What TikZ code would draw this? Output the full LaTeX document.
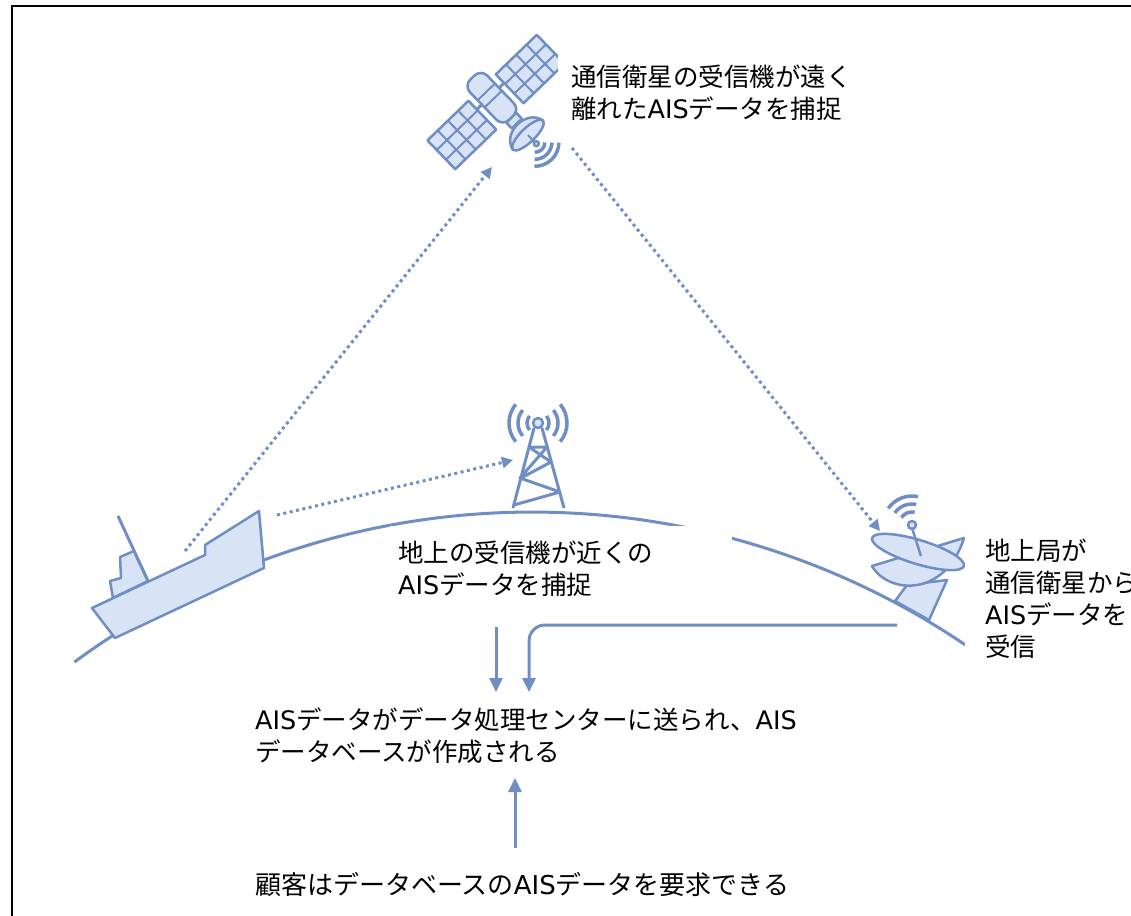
\documentclass[tikz,border=0pt]{standalone}
\usepackage{fontspec}
\setmainfont{Noto Sans CJK JP}
\newfontfamily\latinfont{DejaVu Sans}
\newcommand\aisword{{\latinfont AIS}}
\usetikzlibrary{arrows.meta}
\definecolor{ink}{RGB}{112,142,196}
\definecolor{pale}{RGB}{216,228,246}
\begin{document}
\begin{tikzpicture}[x=1pt,y=-1pt,
  line/.style={draw=ink, line width=3pt, line join=round},
  part/.style={draw=ink, fill=pale, line width=2.5pt, line join=round},
  radio/.style={draw=ink, line width=3.5pt},
  beam/.style={draw=ink, line width=3pt, dash pattern=on 3pt off 3.5pt,
               -{Triangle[length=11pt,width=11pt]}},
  flow/.style={draw=ink, line width=3pt, -{Triangle[length=14pt,width=13pt]}},
  mask/.style={fill=white, draw=none},
  lbl/.style={anchor=base west, align=left, inner sep=0pt,
              font=\fontsize{25.5}{32}\selectfont, text width=600pt}]
\useasboundingbox (0,0) rectangle (1131,915);
\clip (0,0) rectangle (1131,915);

% frame
\draw[line width=2.5pt] (12,920) -- (12,6) -- (1140,6);

% curved horizon
\draw[line] (532,1285) ++(-126.3:773) arc[start angle=-126.3, end angle=-55.9, radius=773];

% ---------- satellite ----------
\begin{scope}[shift={(496,102)}, rotate=44]
  \foreach \s in {-1,1}{
    \draw[part] (\s*19,-20) rectangle (\s*76,20);
    \foreach \k in {1,2,3}
      \draw[ink, line width=2pt] (\s*19+\s*14.25*\k,-20) -- (\s*19+\s*14.25*\k,20);
    \foreach \k in {1,2}
      \draw[ink, line width=2pt] (\s*19,-20+13.33*\k) -- (\s*76,-20+13.33*\k);
  }
  \draw[line] (-19,-8) -- (19,-8);
  \draw[part, rounded corners=9pt] (-12,22) -- (-12,-34) -- (12,-34) -- (12,22) -- cycle;
  \draw[ink, line width=2pt] (-12,-14) -- (12,-14) (-12,-4) -- (12,-4);
  \draw[part] (-7,22) rectangle (7,30);
  \draw[part] (-21,46) .. controls (-17,26) and (17,26) .. (21,46) -- cycle;
  \draw[part] (0,46) ellipse[x radius=21, y radius=7];
  \draw[ink, line width=2pt] (0,46) -- (0,56);
  \draw[part] (0,58) circle[radius=2.5];
  \foreach \r in {10,17,24}
    \draw[radio] (0,56) ++(45:\r) arc[start angle=45, end angle=135, radius=\r];
\end{scope}

% ---------- ground tower ----------
\draw[line] (513,508) -- (534,428) (564,508) -- (542,428);
\draw[line] (529,447) -- (547,447) -- (520,478) -- (560,492) -- (514,505)
            (529,447) -- (551,462) -- (521,478);
\draw[part] (538,423) circle[radius=5];
\foreach \r in {11,20,29}{
  \draw[radio] (538,423) ++(140:\r) arc[start angle=140, end angle=220, radius=\r];
  \draw[radio] (538,423) ++(-40:\r) arc[start angle=-40, end angle=40, radius=\r];
}

% ---------- ship ----------
\draw[part] (113,598) -- (110,581) -- (121,578) -- (120,557) -- (134,551) -- (148,581) -- cycle;
\draw[line] (118,516) -- (148,581);
\draw[part] (92,608) -- (205,555) -- (205,545) -- (259,511) -- (264,568) -- (115,638) -- cycle;

% ---------- ground station ----------
\draw[part] (907,585) -- (895,601) -- (929,620) -- (947,580) -- cycle;
\draw[part] (872,566) .. controls (888,594) and (945,598) .. (964,538) -- cycle;
\draw[part, rotate around={-17:(918,552)}] (918,552) ellipse[x radius=48, y radius=12];
\draw[ink, line width=2.5pt] (912,528) -- (921,556);
\draw[part] (912,525) circle[radius=4];
\foreach \r in {13,21,29}
  \draw[radio] (912,525) ++(-145:\r) arc[start angle=-145, end angle=-78, radius=\r];

% ---------- radio links ----------
\coordinate (shipUp) at (185,551);
\coordinate (satIn) at (492,167);
\coordinate (shipFwd) at (277,515);
\coordinate (towerIn) at (513,460);
\coordinate (satOut) at (572,148);
\coordinate (dishIn) at (880,531);
\draw[beam] (shipUp) -- (satIn);
\draw[beam] (shipFwd) -- (towerIn);
\draw[beam] (satOut) -- (dishIn);

% ---------- labels ----------
\fill[mask] (558,55) rectangle (880,132);
\node[lbl] (satText) at (571,87) {通信衛星の受信機が遠く\\離れた\aisword データを捕捉};
\fill[mask] (390,526) rectangle (732,608);
\node[lbl] (gndText) at (398,562) {地上の受信機が近くの\\\aisword データを捕捉};
\fill[mask] (965,528) rectangle (1140,670);
\node[lbl] (stnText) at (985,560) {地上局が\\通信衛星から\\\aisword データを\\受信};
\node[lbl] (ctrText) at (255,729) {\aisword データがデータ処理センターに送られ、\aisword\\データベースが作成される};
\node[lbl, font=\fontsize{26}{32}\selectfont] (custText) at (255,894) {顧客はデータベースの\aisword データを要求できる};

% ---------- data flow ----------
\coordinate (gndOut) at (496,627);
\coordinate (ctrInL) at (496,692);
\coordinate (stnOut) at (897,625);
\coordinate (ctrInR) at (529,692);
\coordinate (custOut) at (515,848);
\coordinate (ctrInB) at (515,778);
\draw[flow] (gndOut) -- (ctrInL);
\draw[flow, rounded corners=16pt] (stnOut) -- (ctrInR |- stnOut) -- (ctrInR);
\draw[flow] (custOut) -- (ctrInB);
\end{tikzpicture}
\end{document}
